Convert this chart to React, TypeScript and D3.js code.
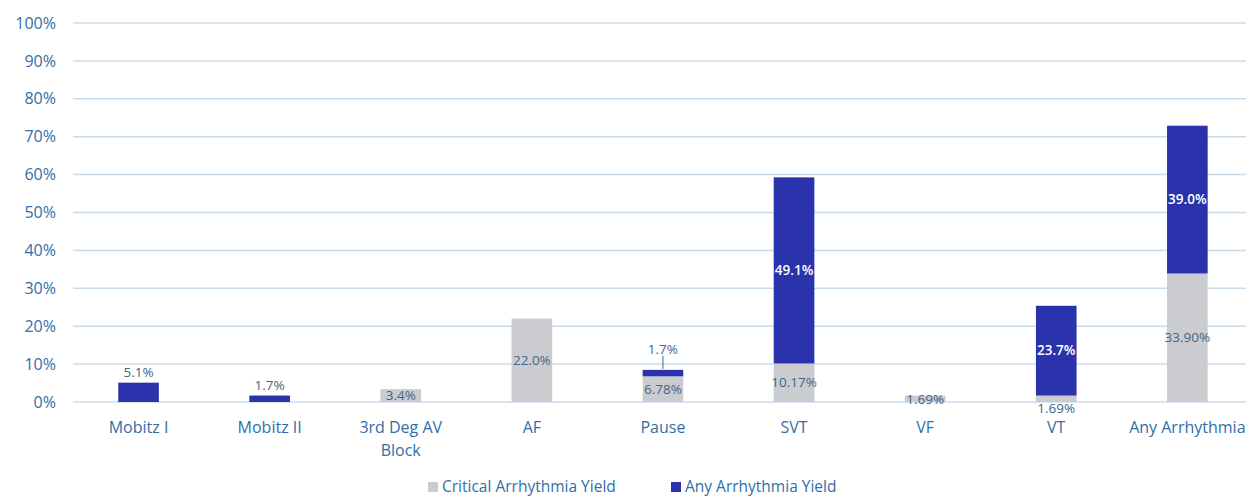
import * as d3 from "d3";

const categories = [
  "Mobitz I",
  "Mobitz II",
  "3rd Deg AV|Block",
  "AF",
  "Pause",
  "SVT",
  "VF",
  "VT",
  "Any Arrhythmia",
];

// Critical Arrhythmia Yield (grey, bottom)
const criticalValues = [0, 0, 3.4, 22.0, 6.78, 10.17, 1.69, 1.69, 33.9];
const criticalLabels = ["", "", "3.4%", "22.0%", "6.78%", "10.17%", "1.69%", "1.69%", "33.90%"];

// Any Arrhythmia Yield (blue, stacked on top)
const anyValues = [5.1, 1.7, 0, 0, 1.7, 49.1, 0, 23.7, 39.0];
const anyLabels = ["5.1%", "1.7%", "", "", "1.7%", "49.1%", "", "23.7%", "39.0%"];

const yTicks = [0, 10, 20, 30, 40, 50, 60, 70, 80, 90, 100];

const GREY = "#cbccd0";
const BLUE = "#2a33ab";
const AXIS_TEXT = "#2f6fa8";
const LABEL_TEXT = "#3d6788";
const GRID = "#c9dcec";
const FONT = "'Open Sans', 'Liberation Sans', sans-serif";

export default function App() {
  const width = 1246;
  const height = 498;
  const margin = { top: 23, left: 73, bottom: 96 };
  const plotBottom = height - margin.bottom;

  const x = d3
    .scaleBand<string>()
    .domain(categories)
    .range([margin.left, margin.left + 9 * 131.1])
    .paddingInner(0.69)
    .paddingOuter(0.345);

  const y = d3.scaleLinear().domain([0, 100]).range([plotBottom, margin.top]);

  return (
    <svg
      width={width}
      height={height}
      style={{ position: "absolute", left: 0, top: 0, background: "#fff" }}
      fontFamily={FONT}
    >
      {/* grid + y ticks */}
      {yTicks.map((t) => (
        <g key={t}>
          <line x1={margin.left} x2={width} y1={y(t)} y2={y(t)} stroke={GRID} strokeWidth={1.5} />
          <text
            x={56}
            y={y(t)}
            dy="0.35em"
            textAnchor="end"
            fontSize={16}
            fill={AXIS_TEXT}
          >
            {t}%
          </text>
        </g>
      ))}

      {/* bars */}
      {categories.map((c, i) => {
        const bx = x(c)!;
        const bw = x.bandwidth();
        const cx = bx + bw / 2;
        const crit = criticalValues[i];
        const any = anyValues[i];
        const critTop = y(crit);
        const anyTop = y(crit + any);
        const els = [];
        if (crit > 0) {
          els.push(
            <rect key="c" x={bx} y={critTop} width={bw} height={plotBottom - critTop} fill={GREY} />
          );
        }
        if (any > 0) {
          els.push(
            <rect key="a" x={bx} y={anyTop} width={bw} height={critTop - anyTop} fill={BLUE} />
          );
        }
        // critical label
        if (criticalLabels[i]) {
          let ly = (critTop + plotBottom) / 2;
          if (crit < 3 && any > 0) ly = plotBottom + 6;
          els.push(
            <text key="cl" x={cx} y={ly} dy="0.35em" textAnchor="middle" fontSize={13.5} fill={LABEL_TEXT}>
              {criticalLabels[i]}
            </text>
          );
        }
        // any label
        if (anyLabels[i]) {
          if (any >= 6) {
            els.push(
              <text
                key="al"
                x={cx}
                y={(anyTop + critTop) / 2}
                dy="0.35em"
                textAnchor="middle"
                fontSize={13.5}
                fontWeight={600}
                fill="#fff"
              >
                {anyLabels[i]}
              </text>
            );
          } else if (crit > 0) {
            els.push(
              <g key="al">
                <line x1={cx} x2={cx} y1={anyTop - 14} y2={anyTop - 1} stroke={LABEL_TEXT} strokeWidth={1} />
                <text x={cx} y={anyTop - 21} dy="0.35em" textAnchor="middle" fontSize={13.5} fill={LABEL_TEXT}>
                  {anyLabels[i]}
                </text>
              </g>
            );
          } else {
            els.push(
              <text key="al" x={cx} y={anyTop - 10} dy="0.35em" textAnchor="middle" fontSize={13.5} fill={LABEL_TEXT}>
                {anyLabels[i]}
              </text>
            );
          }
        }
        return <g key={c}>{els}</g>;
      })}

      {/* x labels */}
      {categories.map((c) => {
        const cx = x(c)! + x.bandwidth() / 2;
        return (
          <text key={c} x={cx} y={427} textAnchor="middle" fontSize={16} fill={AXIS_TEXT}>
            {c.split("|").map((line, j) => (
              <tspan key={j} x={cx} dy={j === 0 ? "0.35em" : 23}>
                {line}
              </tspan>
            ))}
          </text>
        );
      })}

      {/* legend */}
      <g fontSize={15.5} fill={AXIS_TEXT}>
        <rect x={428} y={482} width={10} height={10} fill={GREY} />
        <text x={442} y={487} dy="0.35em">Critical Arrhythmia Yield</text>
        <rect x={671} y={482} width={10} height={10} fill={BLUE} />
        <text x={685} y={487} dy="0.35em">Any Arrhythmia Yield</text>
      </g>
    </svg>
  );
}
